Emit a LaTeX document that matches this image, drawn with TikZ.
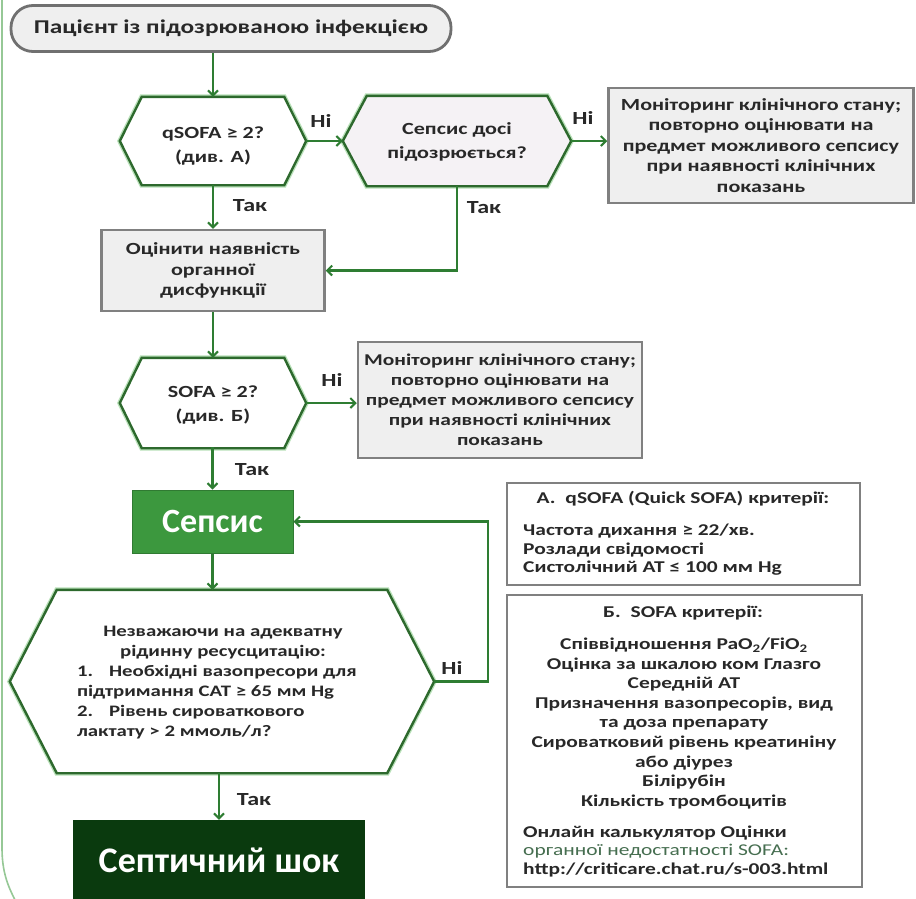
\documentclass[tikz,border=0pt]{standalone}
\usepackage{fontspec}
\setmainfont{Carlito}[FakeStretch=1.3]
\newfontfamily\bigfont{Carlito}
\usetikzlibrary{arrows.meta,calc,backgrounds}
\definecolor{conn}{RGB}{46,125,50}
\definecolor{hexb}{RGB}{45,105,45}
\definecolor{glow}{RGB}{185,225,185}
\definecolor{greyb}{RGB}{128,128,128}
\definecolor{greyf}{RGB}{239,239,239}
\definecolor{startb}{RGB}{112,112,112}
\definecolor{textc}{RGB}{40,40,40}
\definecolor{sepsisf}{RGB}{60,152,62}
\definecolor{shockf}{RGB}{10,58,14}
\definecolor{frame}{RGB}{150,200,150}
\definecolor{linkc}{RGB}{70,110,80}
\definecolor{hex2f}{RGB}{245,242,245}
\newcommand{\hexpath}[3]{%
  \draw[glow,line width=5pt,line join=miter] (#1.north west) -- (#1.north east) -- ($(#1.east)+(#2,0)$) -- (#1.south east) -- (#1.south west) -- ($(#1.west)+(-#2,0)$) -- cycle;
  \draw[hexb,line width=2.4pt,fill=#3] (#1.north west) -- (#1.north east) -- ($(#1.east)+(#2,0)$) -- (#1.south east) -- (#1.south west) -- ($(#1.west)+(-#2,0)$) -- cycle;}
\begin{document}
\begin{tikzpicture}[x=1pt,y=-1pt,
  txt/.style={text=textc,inner sep=0pt,font=\bfseries\fontsize{17}{24}\selectfont,align=center},
  hexnode/.style={draw=none,inner sep=0pt},
  greybox/.style={draw=greyb,line width=2.5pt,fill=greyf,inner sep=0pt,text=textc,align=center},
  lab/.style={text=textc,inner sep=0pt,font=\bfseries\fontsize{18.5}{20}\selectfont},
  arr/.style={conn,line width=2.3pt,-{Straight Barb[length=5pt,width=10pt,line width=2pt]}}
]
\useasboundingbox (0,0) rectangle (916,898);
\fill[white] (0,0) rectangle (916,898);
% outer frame fragment
\draw[frame,line width=1.6pt] (2,-2) -- (2,848) .. controls (2,872) and (8,886) .. (15,900);

% start
\node[draw=startb,line width=2.8pt,fill=greyf,rounded corners=22pt,minimum width=440pt,minimum height=46pt,inner sep=0pt,text=textc,font=\bfseries\fontsize{19.5}{22}\selectfont] (start) at (231,28.5) {Пацієнт із підозрюваною інфекцією};

% hexagon geometry nodes
\node[hexnode,minimum width=142pt,minimum height=88pt] (hq) at (213,141) {};
\node[hexnode,minimum width=180pt,minimum height=90pt] (h2) at (457,141) {};
\node[hexnode,minimum width=142pt,minimum height=90pt] (hs) at (213,403) {};
\node[hexnode,minimum width=330pt,minimum height=183pt] (hb) at (222,681.5) {};
\hexpath{hq}{22}{white}
\hexpath{h2}{24}{hex2f}
\hexpath{hs}{22}{white}
\hexpath{hb}{47}{white}
\coordinate (hq-r) at ($(hq.east)+(22,0)$);
\coordinate (h2-l) at ($(h2.west)+(-24,0)$);
\coordinate (h2-r) at ($(h2.east)+(24,0)$);
\coordinate (hs-r) at ($(hs.east)+(22,0)$);
\coordinate (hb-r) at ($(hb.east)+(47,0)$);

% hexagon texts
\node[txt] (hqt) at (213,146) {qSOFA ≥ 2?\\(див. А)};
\node[txt] (h2t) at (457,142) {Сепсис досі\\підозрюється?};
\node[txt] (hst) at (213,405) {SOFA ≥ 2?\\(див. Б)};
\node[txt,align=left,font=\bfseries\fontsize{16}{20}\selectfont] (hbt) at (223,682.5) {%
  \makebox[292pt][c]{Незважаючи на адекватну}\\
  \makebox[292pt][c]{рідинну ресусцитацію:}\\
  1.\hspace{1em}Необхідні вазопресори для\\
  підтримання САТ ≥ 65 мм Hg\\
  2.\hspace{1em}Рівень сироваткового\\
  лактату > 2 ммоль/л?};

% grey boxes
\node[greybox,minimum width=305pt,minimum height=115pt,font=\bfseries\fontsize{17}{20.5}\selectfont] (mon1) at (761,145.5) {Моніторинг клінічного стану;\\повторно оцінювати на\\предмет можливого сепсису\\при наявності клінічних\\показань};
\node[greybox,minimum width=223pt,minimum height=81pt,font=\bfseries\fontsize{17}{20.5}\selectfont] (box3) at (213,270.5) {Оцінити наявність\\органної\\дисфункції};
\node[greybox,minimum width=284pt,minimum height=116pt,font=\bfseries\fontsize{16.5}{20}\selectfont] (mon2) at (500,400) {Моніторинг клінічного стану;\\повторно оцінювати на\\предмет можливого сепсису\\при наявності клінічних\\показань};

% sepsis and shock
\node[fill=sepsisf,draw=sepsisf!80!black,line width=1pt,minimum width=161pt,minimum height=63pt,inner sep=0pt,text=white,font=\bigfont\bfseries\fontsize{34}{36}\selectfont] (sepsis) at (212.5,521.5) {Сепсис};
\node[fill=shockf,minimum width=292pt,minimum height=80pt,inner sep=0pt,text=white,font=\bigfont\bfseries\fontsize{36}{38}\selectfont] (shock) at (219,860) {Септичний шок};

% criteria boxes
\node[draw=greyb,line width=2.5pt,fill=white,minimum width=353pt,minimum height=102pt] (boxA) at (683.5,534) {};
\node[draw=greyb,line width=2.5pt,fill=white,minimum width=355pt,minimum height=292pt] (boxB) at (684.5,741) {};
\node[txt,font=\bfseries\fontsize{16.5}{18}\selectfont] (titA) at (683,499) {A.\hspace{0.6em}qSOFA (Quick SOFA) критерії:};
\node[txt,anchor=west,align=left,font=\bfseries\fontsize{16.5}{18.5}\selectfont] (listA) at (523,550) {Частота дихання ≥ 22/хв.\\Розлади свідомості\\Систолічний АТ ≤ 100 мм Hg};
\node[txt,font=\bfseries\fontsize{16.5}{18}\selectfont] (titB) at (683,613) {Б.\hspace{0.6em}SOFA критерії:};
\node[txt,font=\bfseries\fontsize{16.5}{19.6}\selectfont] (listB) at (684,723.5) {Співвідношення PaO\textsubscript{2}/FiO\textsubscript{2}\\Оцінка за шкалою ком Глазго\\Середній АТ\\Призначення вазопресорів, вид\\та доза препарату\\Сироватковий рівень креатиніну\\або діурез\\Білірубін\\Кількість тромбоцитів};
\node[txt,anchor=west,align=left,font=\fontsize{16.5}{18.5}\selectfont] (linkB) at (523,851) {\textbf{Онлайн калькулятор Оцінки}\\\textcolor{linkc}{органної недостатності SOFA:}\\\textbf{http://criticare.chat.ru/s-003.html}};

% connectors
\draw[arr] (hq.north |- start.south) -- (hq.north);
\draw[arr] (hq-r) -- (h2-l);
\draw[arr] (h2-r) -- (mon1.west |- h2-r);
\draw[arr] (hq.south) -- (box3.north);
\draw[arr] (h2.south) |- (box3.east);
\draw[arr] (box3.south) -- (hs.north);
\draw[arr] (hs-r) -- (mon2.west |- hs-r);
\draw[arr] (hs.south) -- (sepsis.south |- hs.south) -- (sepsis.north);
\draw[arr] (sepsis.south) -- (sepsis.south |- hb.north);
\coordinate (loop) at (488,681.5);
\draw[arr] (hb-r) -- (loop) |- (sepsis.east);
\draw[arr] (shock.north |- hb.south) -- (shock.north);

% labels
\node[lab] (n1) at (321,121) {Ні};
\node[lab] (n2) at (583,118) {Ні};
\node[lab] (n3) at (332,380) {Ні};
\node[lab] (n4) at (452,668) {Ні};
\node[lab] (t1) at (250,206) {Так};
\node[lab] (t2) at (484,208) {Так};
\node[lab] (t3) at (252,470) {Так};
\node[lab] (t4) at (254,800) {Так};
\end{tikzpicture}
\end{document}
